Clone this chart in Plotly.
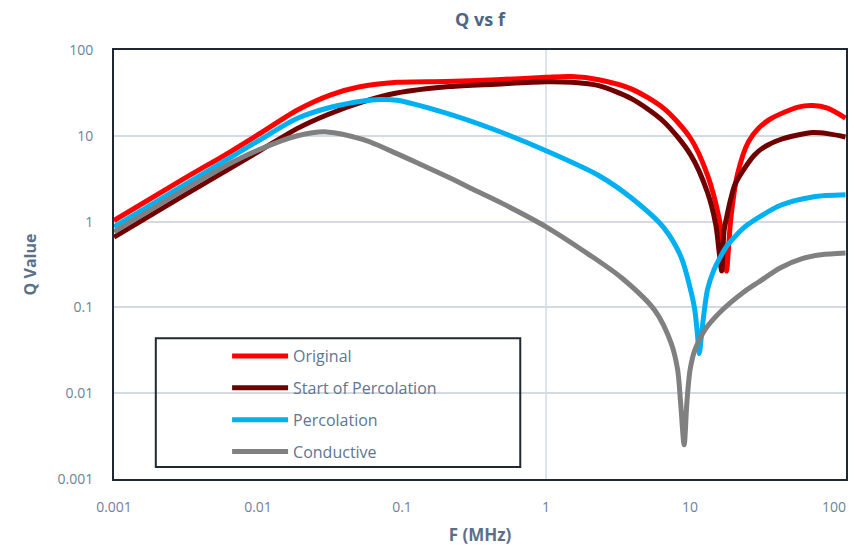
import math
import plotly.graph_objects as go

# ---- data ----
f_original = [0.001, 0.003, 0.0065, 0.01, 0.0188, 0.032, 0.05, 0.092, 0.2, 0.45, 1, 1.5, 2.32, 3.94,
              6.6, 10.1, 13.2, 15.9, 17.2, 17.9, 18.5, 19.2, 21.3, 25.4, 30, 36.3, 56.3, 71, 90, 120]
q_original = [1.03, 3.1, 6.6, 10.3, 20, 30, 37, 42, 43, 45, 48, 49, 45, 35,
              20.7, 9.3, 3.5, 1.1, 0.45, 0.265, 0.5, 1.1, 3.5, 8.5, 12.3, 15.8, 21.6, 22.5, 21, 16.1]

f_start = [0.001, 0.003, 0.01, 0.0188, 0.03, 0.054, 0.092, 0.214, 0.45, 1, 1.5, 2.32, 3.94, 6.6, 10.1,
           13.2, 15.1, 15.9, 16.6, 17.2, 18.1, 19.2, 20.5, 23.5, 27.8, 32.7, 42, 56, 71, 90, 120]
q_start = [0.66, 1.98, 6.5, 12.2, 17.5, 25, 31.5, 37.5, 40, 42.6, 42, 38.4, 26.9, 14.5, 6.0,
           2.2, 0.91, 0.45, 0.265, 0.77, 1.2, 1.86, 2.7, 4.0, 5.9, 7.4, 9.0, 10.2, 10.9, 10.6, 9.7]

f_perc = [0.001, 0.003, 0.01, 0.0188, 0.032, 0.054, 0.07, 0.092, 0.2, 0.45, 1, 2.32, 3.94, 6.6,
          8.7, 10, 10.8, 11.4, 11.6, 12.1, 13.2, 14.6, 16, 18, 21, 24.9, 42.5, 71, 120]
q_perc = [0.87, 2.6, 8.7, 16, 21.5, 25.5, 26.5, 26, 18.5, 11.6, 6.7, 3.45, 1.87, 0.84,
          0.38, 0.17, 0.092, 0.038, 0.029, 0.054, 0.16, 0.27, 0.37, 0.52, 0.7, 0.91, 1.55, 1.94, 2.05]

f_cond = [0.001, 0.003, 0.006, 0.01, 0.0188, 0.03, 0.054, 0.092, 0.14, 0.214, 0.3, 0.5, 1, 2,
          3.36, 5.7, 7.4, 8.2, 8.6, 9.1, 9.5, 10, 10.8, 12.6, 16.4, 23.5, 29.6, 42.5, 60, 81, 120]
q_cond = [0.76, 2.3, 4.5, 6.8, 10.0, 11.1, 9.0, 6.2, 4.5, 3.24, 2.45, 1.62, 0.87, 0.41,
          0.22, 0.092, 0.038, 0.0187, 0.0077, 0.0025, 0.0077, 0.0187, 0.032, 0.054, 0.09, 0.15, 0.195, 0.29, 0.37, 0.41, 0.43]

series_names = ["Original", "Start of Percolation", "Percolation", "Conductive"]
series_colors = ["#FF0000", "#700000", "#00B0F0", "#808080"]

tick_vals = [0.001, 0.01, 0.1, 1, 10, 100]
tick_text = ["0.001", "0.01", "0.1", "1", "10", "100"]

X_MIN, X_MAX = 0.001, 121
Y_MIN, Y_MAX = 0.001, 100

FONT = "Open Sans"

fig = go.Figure()
for i, (fx, qy) in enumerate([(f_original, q_original), (f_start, q_start),
                              (f_perc, q_perc), (f_cond, q_cond)]):
    fig.add_trace(go.Scatter(x=fx, y=qy, mode="lines", name=series_names[i],
                             legendgroup=str(i),
                             line=dict(color=series_colors[i], width=5, shape="spline", smoothing=0.8)))

xr = [math.log10(X_MIN), math.log10(X_MAX)]
yr = [math.log10(Y_MIN), math.log10(Y_MAX)]
x_one = (0 - xr[0]) / (xr[1] - xr[0])

fig.update_layout(
    width=845, height=539,
    margin=dict(l=106, r=5, t=42, b=60),
    paper_bgcolor="white", plot_bgcolor="white",
    font=dict(family=FONT, color="#5F7590", size=14),
    title=dict(text="<b>Q vs f</b>", x=0.5, xref="paper", y=0.978, yanchor="middle",
               font=dict(size=18, color="#4F6680", family=FONT)),
    xaxis=dict(type="log", range=xr, tickvals=tick_vals, ticktext=tick_text,
               showgrid=False, zeroline=False, showline=True, mirror=True,
               linecolor="#1F2833", linewidth=2, ticks="", ticklabelstandoff=14,
               tickfont=dict(size=14, color="#6D829A"),
               title=dict(text="<b>F (MHz)</b>", font=dict(size=17, color="#5A7089"), standoff=14)),
    yaxis=dict(type="log", range=yr, tickvals=tick_vals, ticktext=tick_text,
               showgrid=True, gridcolor="#D3DAE3", gridwidth=1.5, zeroline=False,
               showline=True, mirror=True, linecolor="#1F2833", linewidth=2, ticks="",
               ticklabelstandoff=16, tickfont=dict(size=14, color="#6D829A"),
               title=dict(text="<b>Q Value</b>", font=dict(size=16, color="#5A7089"), standoff=17)),
    legend=dict(x=0.1545, y=0.326, xanchor="left", yanchor="top", bgcolor="rgba(0,0,0,0)",
                borderwidth=0, itemwidth=56, tracegroupgap=8,
                font=dict(size=16, color="#5F7590", family=FONT)),
    shapes=[
        dict(type="line", xref="paper", yref="paper", x0=x_one, x1=x_one, y0=0, y1=1,
             line=dict(color="#D3DAE3", width=1.5), layer="below"),
        dict(type="rect", xref="paper", yref="paper", x0=0.0571, x1=0.555, y0=0.0277, y1=0.328,
             line=dict(color="#1F2833", width=2), fillcolor="rgba(255,255,255,0)", layer="above"),
    ],
)

fig.write_html("out.html")
